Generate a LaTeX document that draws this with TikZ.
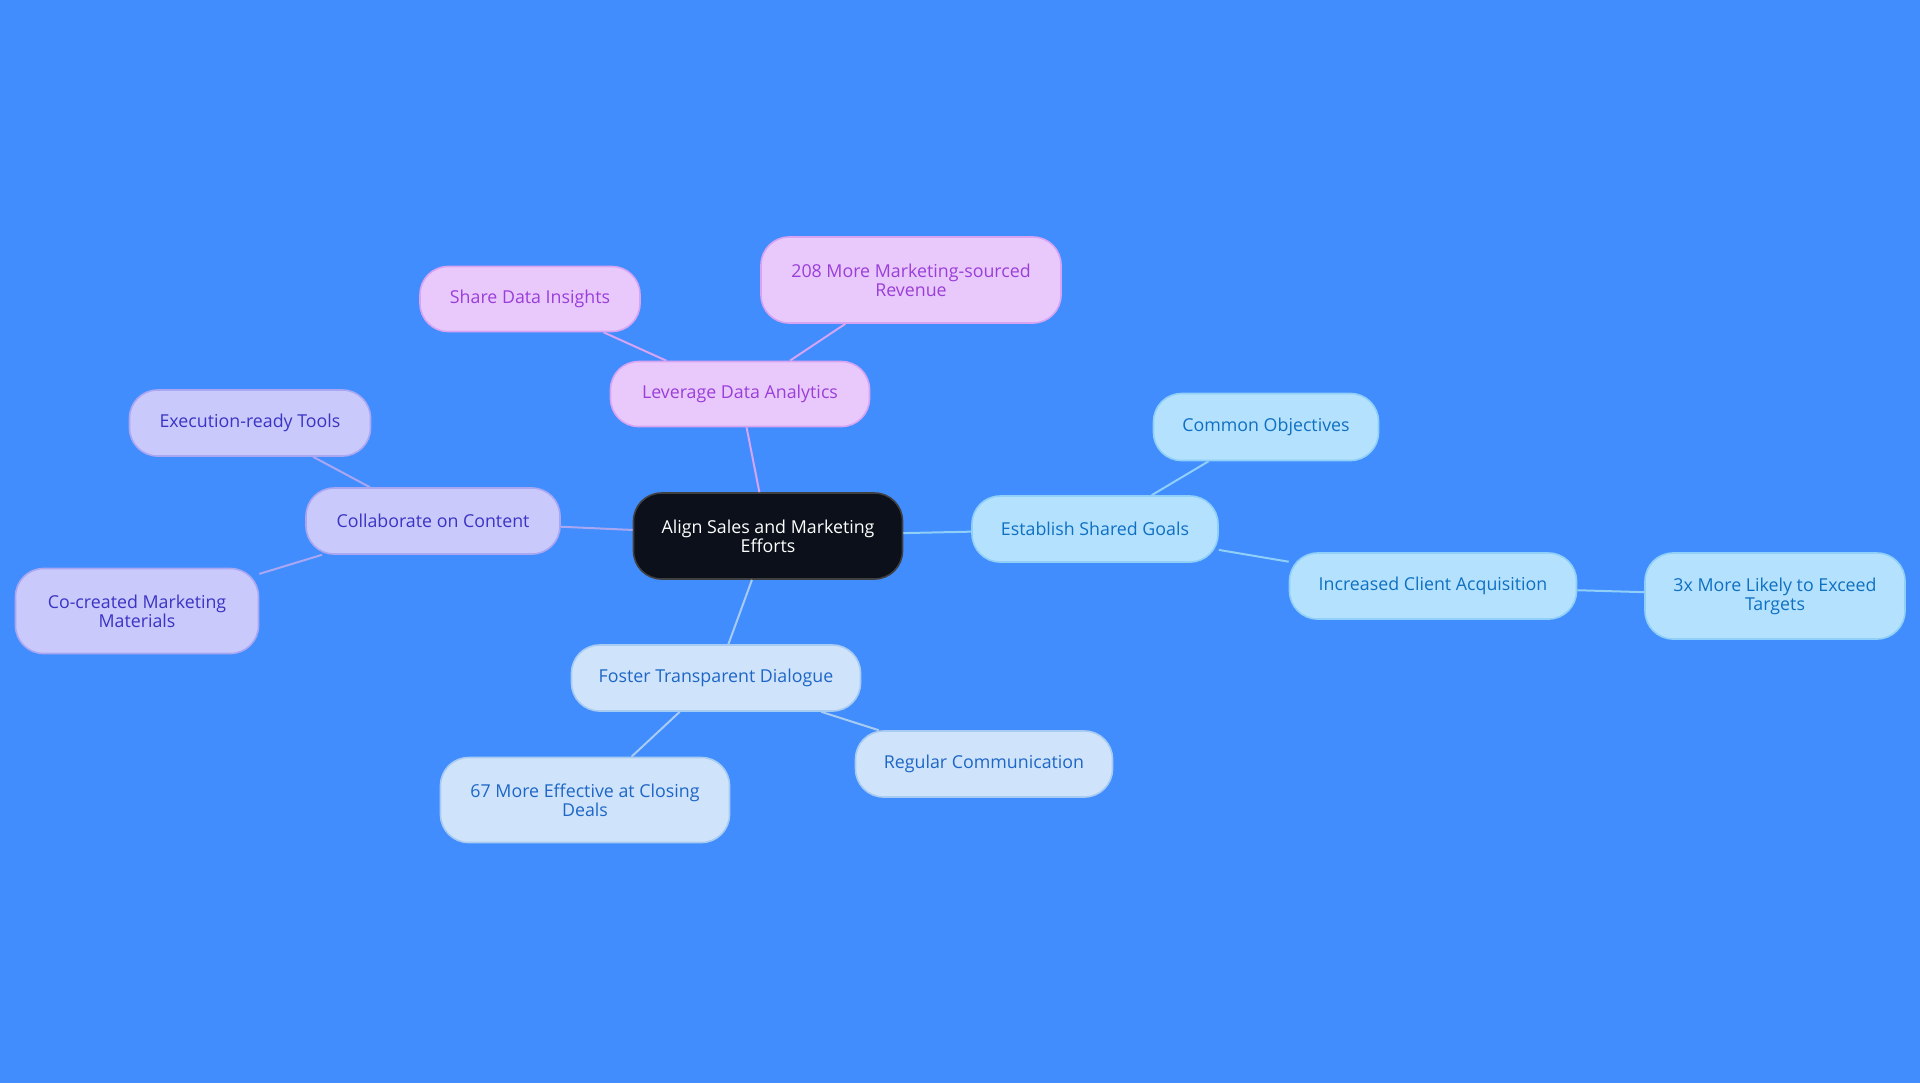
\documentclass[tikz,border=0pt]{standalone}
\usepackage{fontspec}
\setmainfont{Open Sans}
\definecolor{bgblue}{HTML}{418DFE}
\definecolor{rootfill}{HTML}{0B101A}
\definecolor{pinkfill}{HTML}{E9C9FB}
\definecolor{pinkline}{HTML}{D6A4F2}
\definecolor{pinktext}{HTML}{9A3ED9}
\definecolor{lavfill}{HTML}{C9C9FC}
\definecolor{lavline}{HTML}{A9A6F2}
\definecolor{lavtext}{HTML}{3A34C4}
\definecolor{skyfill}{HTML}{B4E1FE}
\definecolor{skyline}{HTML}{8FCFF8}
\definecolor{skytext}{HTML}{0F70C2}
\definecolor{icefill}{HTML}{CFE4FB}
\definecolor{iceline}{HTML}{A8CBF1}
\definecolor{icetext}{HTML}{1E66C6}

\begin{document}
\begin{tikzpicture}[x=0.5pt, y=-0.5pt, line width=1pt,
    idea/.style={rounded corners=14pt, draw, line width=0.8pt, align=center,
        inner sep=0pt, font=\fontsize{8.9}{9.6}\selectfont},
    root/.style={idea, fill=rootfill, draw=black!75, text=white},
    pinkbox/.style={idea, fill=pinkfill, draw=pinkline, text=pinktext},
    lavbox/.style={idea, fill=lavfill, draw=lavline, text=lavtext},
    skybox/.style={idea, fill=skyfill, draw=skyline, text=skytext},
    icebox/.style={idea, fill=icefill, draw=iceline, text=icetext}]
    % draw background
    \fill[bgblue] (0, 0) rectangle (1920, 1083);
    \useasboundingbox (0, 0) rectangle (1920, 1083);

    % draw nodes
    \node[root, minimum width=134.5pt, minimum height=43pt] (align) at (768, 536) {Align Sales and Marketing\\Efforts};

    \node[pinkbox, minimum width=129.5pt, minimum height=32.5pt] (leverage) at (740, 394) {Leverage Data Analytics};
    \node[pinkbox, minimum width=150pt, minimum height=43pt] (revenue) at (911, 280) {208 More Marketing-sourced\\Revenue};
    \node[pinkbox, minimum width=110pt, minimum height=32.5pt] (insights) at (530, 299) {Share Data Insights};

    \node[lavbox, minimum width=127pt, minimum height=33pt] (content) at (433, 521) {Collaborate on Content};
    \node[lavbox, minimum width=120.5pt, minimum height=33pt] (tools) at (250, 423) {Execution-ready Tools};
    \node[lavbox, minimum width=121.5pt, minimum height=42.5pt] (materials) at (137, 611) {Co-created Marketing\\Materials};

    \node[skybox, minimum width=123pt, minimum height=33pt] (goals) at (1095, 529) {Establish Shared Goals};
    \node[skybox, minimum width=112.5pt, minimum height=33.5pt] (objectives) at (1266, 427) {Common Objectives};
    \node[skybox, minimum width=143.5pt, minimum height=33pt] (clients) at (1433, 586) {Increased Client Acquisition};
    \node[skybox, minimum width=130pt, minimum height=43pt] (targets) at (1775, 596) {3x More Likely to Exceed\\Targets};

    \node[icebox, minimum width=144.5pt, minimum height=33pt] (dialogue) at (716, 678) {Foster Transparent Dialogue};
    \node[icebox, minimum width=144.5pt, minimum height=42.5pt] (closing) at (585, 800) {67 More Effective at Closing\\Deals};
    \node[icebox, minimum width=128.5pt, minimum height=33pt] (communication) at (984, 764) {Regular Communication};

    % draw connectors
    \draw[pinkline] (align) -- (leverage);
    \draw[pinkline] (leverage) -- (revenue);
    \draw[pinkline] (leverage) -- (insights);

    \draw[lavline] (align) -- (content);
    \draw[lavline] (content) -- (tools);
    \draw[lavline] (content) -- (materials);

    \draw[skyline] (align) -- (goals);
    \draw[skyline] (goals) -- (objectives);
    \draw[skyline] (goals) -- (clients);
    \draw[skyline] (clients) -- (targets);

    \draw[iceline] (align) -- (dialogue);
    \draw[iceline] (dialogue) -- (closing);
    \draw[iceline] (dialogue) -- (communication);
\end{tikzpicture}
\end{document}
